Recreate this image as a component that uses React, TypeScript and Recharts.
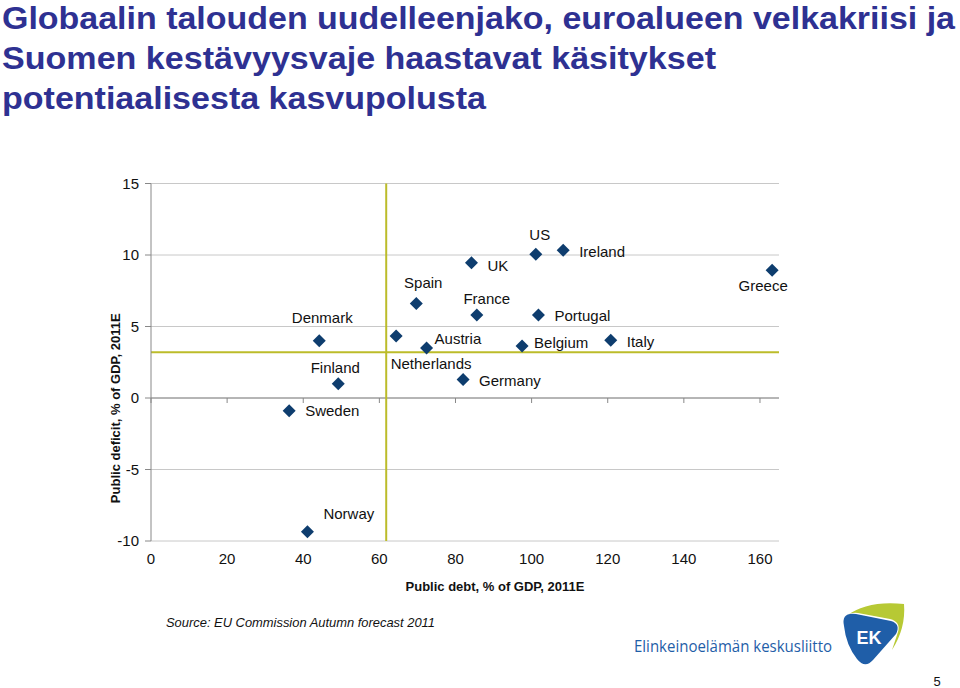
import React from 'react';
import { ScatterChart, Scatter, XAxis, YAxis, CartesianGrid, ReferenceLine } from 'recharts';

// Public debt vs public deficit, % of GDP, 2011E (EU Commission autumn forecast)
const countries = ['Sweden', 'Denmark', 'Finland', 'Norway', 'Netherlands', 'Spain', 'Austria', 'Germany', 'UK', 'France', 'Belgium', 'US', 'Portugal', 'Ireland', 'Italy', 'Greece'];
const debt = [36.3, 44.2, 49.2, 41.1, 64.4, 69.7, 72.4, 82.0, 84.2, 85.6, 97.5, 101.1, 101.8, 108.3, 120.8, 163.2];
const deficit = [-0.9, 4.0, 1.0, -9.35, 4.33, 6.6, 3.5, 1.3, 9.45, 5.8, 3.63, 10.05, 5.8, 10.33, 4.03, 8.93];

const xTicks = [0, 20, 40, 60, 80, 100, 120, 140, 160];
const yTicks = [-10, -5, 0, 5, 10, 15];
const debtLine = 61.8;
const deficitLine = 3.2;

const points = countries.map((name, i) => ({ name, x: debt[i], y: deficit[i] }));

// where each country's label sits relative to its marker
const labelPos: Record<string, { dx: number; dy: number; anchor: string }> = {
  Sweden: { dx: 16, dy: 0, anchor: 'start' },
  Denmark: { dx: 3, dy: -23, anchor: 'middle' },
  Finland: { dx: -3, dy: -16, anchor: 'middle' },
  Norway: { dx: 16, dy: -18, anchor: 'start' },
  Netherlands: { dx: 35, dy: 27, anchor: 'middle' },
  Spain: { dx: 7, dy: -21, anchor: 'middle' },
  Austria: { dx: 8, dy: -9, anchor: 'start' },
  Germany: { dx: 16, dy: 1, anchor: 'start' },
  UK: { dx: 16, dy: 3, anchor: 'start' },
  France: { dx: 10, dy: -17, anchor: 'middle' },
  Belgium: { dx: 12, dy: -4, anchor: 'start' },
  US: { dx: 4, dy: -20, anchor: 'middle' },
  Portugal: { dx: 16, dy: 0, anchor: 'start' },
  Ireland: { dx: 16, dy: 1, anchor: 'start' },
  Italy: { dx: 16, dy: 1, anchor: 'start' },
  Greece: { dx: -9, dy: 15, anchor: 'middle' },
};

const FONT = '"Liberation Sans", Arial, Helvetica, sans-serif';
const NAVY = '#0e3d6e';
const OLIVE = '#bcbc2a';

const Diamond = (props: any) => {
  const { cx, cy, payload } = props;
  if (cx == null || cy == null) return null;
  const r = 6.5;
  const lp = labelPos[payload.name] || { dx: 14, dy: 0, anchor: 'start' };
  return (
    <g>
      <path d={`M${cx},${cy - r} L${cx + r},${cy} L${cx},${cy + r} L${cx - r},${cy} Z`} fill={NAVY} />
      <text x={cx + lp.dx} y={cy + lp.dy} textAnchor={lp.anchor as any} dominantBaseline="central"
        fontSize={15} fontFamily={FONT} fill="#111">{payload.name}</text>
    </g>
  );
};

const YLabel = (props: any) => {
  const { viewBox } = props;
  const cx = viewBox.x + 14;
  const cy = viewBox.y + viewBox.height / 2 + 46;
  return (
    <text x={cx} y={cy} transform={`rotate(-90 ${cx} ${cy})`} textAnchor="middle" dominantBaseline="central"
      fontSize={13} fontWeight="bold" fontFamily={FONT} fill="#111">Public deficit, % of GDP, 2011E</text>
  );
};

const XLabel = (props: any) => {
  const { viewBox } = props;
  return (
    <text x={495} y={viewBox.y + 45} textAnchor="middle" dominantBaseline="central"
      fontSize={13} fontWeight="bold" fontFamily={FONT} fill="#111">Public debt, % of GDP, 2011E</text>
  );
};

const titleLines = [
  { text: 'Globaalin talouden uudelleenjako, euroalueen velkakriisi ja', w: 953 },
  { text: 'Suomen kestävyysvaje haastavat käsitykset', w: 714 },
  { text: 'potentiaalisesta kasvupolusta', w: 484 },
];

export default function App() {
  return (
    <div style={{ position: 'absolute', left: 0, top: 0, width: 960, height: 688, background: '#fff' }}>
      <svg width={960} height={688} style={{ position: 'absolute', left: 0, top: 0 }}>
        {titleLines.map((l, i) => (
          <text key={i} x={2} y={29 + i * 40} fontSize={32} fontWeight="bold" fontFamily={FONT} fill="#2e3192"
            textLength={l.w} lengthAdjust="spacingAndGlyphs">{l.text}</text>
        ))}
        <text x={166} y={627} fontSize={13} fontStyle="italic" fontFamily={FONT} fill="#111"
          textLength={269} lengthAdjust="spacingAndGlyphs">Source: EU Commission Autumn forecast 2011</text>
        <text x={634} y={652} fontSize={16} fontFamily={'"Open Sans", "Noto Sans", sans-serif'} fill="#1f5ea8"
          textLength={198} lengthAdjust="spacingAndGlyphs">Elinkeinoelämän keskusliitto</text>
        <path d="M846,616 Q868,600 904,604 Q906,628 892,650 L898,632 Q901,622 890,619 L858,613 Q851,612 846,616 Z" fill="#b7c934" />
        <path d="M844,626 Q841,612 856,614 L891,621 Q901,624 896,634 L873,660 Q865,669 857,659 Q846,645 844,626 Z" fill="#1f5ea8" />
        <text x={869} y={638} textAnchor="middle" dominantBaseline="central" fontSize={18} fontWeight="bold"
          fontFamily={FONT} fill="#fff">EK</text>
        <text x={937} y={681} textAnchor="middle" dominantBaseline="central" fontSize={13} fontFamily={FONT} fill="#111">5</text>
      </svg>
      <div style={{ position: 'absolute', left: 0, top: 0 }}>
        <ScatterChart width={960} height={688} margin={{ top: 183.5, right: 181, bottom: 117, left: 101 }}>
          <CartesianGrid horizontal vertical={false} stroke="#c8c8c8" />
          <XAxis type="number" dataKey="x" domain={[0, 165]} ticks={xTicks} interval={0}
            axisLine={false} tickLine={false} tickSize={6} tickMargin={6} height={30}
            tick={{ fontSize: 15, fontFamily: FONT, fill: '#111' }} label={<XLabel />} />
          <YAxis type="number" dataKey="y" domain={[-10, 15]} ticks={yTicks} interval={0} width={50}
            axisLine={{ stroke: '#888' }} tickLine={{ stroke: '#888' }} tickSize={6} tickMargin={6}
            tick={{ fontSize: 15, fontFamily: FONT, fill: '#111' }} label={<YLabel />} />
          <ReferenceLine y={0} stroke="#888" />
          {xTicks.map((t) => (
            <ReferenceLine key={t} segment={[{ x: t, y: 0 }, { x: t, y: -0.35 }]} stroke="#888" />
          ))}
          <ReferenceLine x={debtLine} stroke={OLIVE} strokeWidth={2} />
          <ReferenceLine y={deficitLine} stroke={OLIVE} strokeWidth={2} />
          <Scatter data={points} shape={<Diamond />} isAnimationActive={false} />
        </ScatterChart>
      </div>
    </div>
  );
}
